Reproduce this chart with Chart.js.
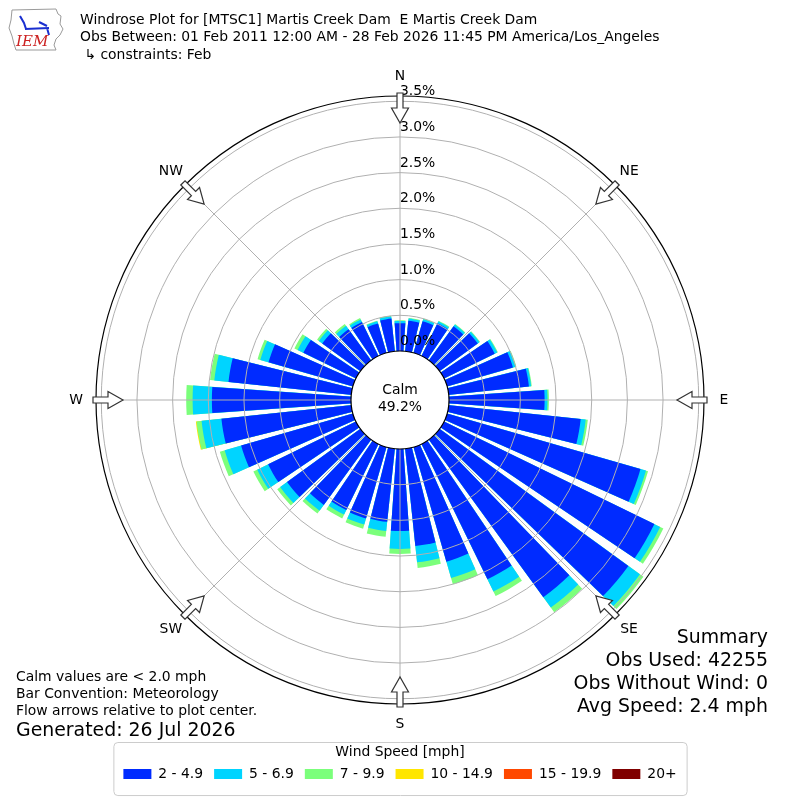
<!DOCTYPE html>
<html>
<head>
<meta charset="utf-8">
<title>Windrose Plot for [MTSC1] Martis Creek Dam</title>
<script src="https://cdn.jsdelivr.net/npm/chart.js@4.4.1/dist/chart.umd.min.js"></script>
<style>
  body { margin: 0; background: #fff; font-family: 'DejaVu Sans', sans-serif; color: #000; }
  #wrap { position: relative; width: 800px; height: 800px; overflow: hidden; background: #fff; }
  #windrose { position: absolute; left: 0; top: 0; }
  .txt { position: absolute; white-space: pre; }
  #title { left: 80px; top: 10.5px; font-size: 13.9px; line-height: 17.5px; }
  #notes { left: 16px; top: 667.5px; font-size: 13.9px; line-height: 17px; }
  #generated { left: 16px; top: 718px; font-size: 18.9px; line-height: 22px; }
  #summary { right: 32px; top: 624.5px; font-size: 18.9px; line-height: 23px; text-align: right; }
  #logo { position: absolute; left: 6px; top: 4px; }
</style>
</head>
<body>
<div id="wrap">
  <canvas id="windrose" width="800" height="800"></canvas>

  <svg id="logo" width="60" height="50" viewBox="0 0 60 50">
    <path d="M6 6 L50 5 L52 10 L55 12 L54 20 L57 25 L54 31 L50 35 L48 41 L50 46 L10 46 L8 40 L6 32 L3 24 L5 16 Z"
          fill="none" stroke="#9a9a9a" stroke-width="1"/>
    <path d="M14 12 L18 19 L20 25 M19 25 L43 24 M33 18 L41 22 M41 24 L43 31" stroke="#1a2fd0" stroke-width="2" fill="none"/>
    <text x="10" y="42" font-family="'DejaVu Serif', serif" font-style="italic" font-size="15" fill="#cc2222">IEM</text>
  </svg>

  <div id="title" class="txt">Windrose Plot for [MTSC1] Martis Creek Dam  E Martis Creek Dam
Obs Between: 01 Feb 2011 12:00 AM - 28 Feb 2026 11:45 PM America/Los_Angeles
 ↳ constraints: Feb</div>

  <div id="notes" class="txt">Calm values are &lt; 2.0 mph
Bar Convention: Meteorology
Flow arrows relative to plot center.</div>
  <div id="generated" class="txt">Generated: 26 Jul 2026</div>

  <div id="summary" class="txt">Summary
Obs Used: 42255
Obs Without Wind: 0
Avg Speed: 2.4 mph</div>
</div>

<script>
// ─── DATA ──────────────────────────────────────────────────
// direction bins (degrees, wind from), 10 deg wide
const DIRECTIONS = [0, 10, 20, 30, 40, 50, 60, 70, 80, 90, 100, 110, 120, 130, 140, 150, 160, 170,
                    180, 190, 200, 210, 220, 230, 240, 250, 260, 270, 280, 290, 300, 310, 320, 330, 340, 350];

const SPEED_BINS = ['2 - 4.9', '5 - 6.9', '7 - 9.9', '10 - 14.9', '15 - 19.9', '20+'];
const BIN_COLORS = ['#002bff', '#00d4ff', '#7bff7b', '#ffe600', '#ff4800', '#800000'];

// frequency (%) per speed bin, one value per direction
const PCT_2_5   = [0.39, 0.43, 0.46, 0.51, 0.59, 0.66, 0.79, 0.96, 1.13, 1.34, 1.86, 2.82, 3.28, 3.27, 2.73, 2.11, 1.67, 1.37,
                   1.15, 1.03, 1.04, 1.03, 1.13, 1.27, 1.37, 1.63, 1.83, 1.95, 1.73, 1.23, 0.82, 0.66, 0.54, 0.53, 0.43, 0.46];
const PCT_5_7   = [0.03, 0.03, 0.03, 0.03, 0.03, 0.03, 0.04, 0.04, 0.03, 0.04, 0.07, 0.08, 0.09, 0.20, 0.18, 0.19, 0.24, 0.23,
                   0.25, 0.13, 0.09, 0.07, 0.10, 0.12, 0.17, 0.24, 0.28, 0.27, 0.20, 0.12, 0.09, 0.06, 0.06, 0.04, 0.03, 0.03];
const PCT_7_10  = [0.01, 0.01, 0.01, 0.01, 0.01, 0.01, 0.01, 0.01, 0.01, 0.02, 0.03, 0.03, 0.05, 0.06, 0.08, 0.07, 0.09, 0.08,
                   0.07, 0.08, 0.06, 0.06, 0.05, 0.05, 0.06, 0.07, 0.07, 0.09, 0.06, 0.04, 0.05, 0.03, 0.03, 0.02, 0.01, 0.01];
const PCT_10_15 = [0, 0, 0, 0, 0, 0, 0, 0, 0, 0, 0, 0, 0, 0, 0, 0, 0, 0,
                   0, 0, 0, 0, 0, 0, 0, 0, 0.01, 0, 0, 0, 0, 0, 0, 0, 0, 0];
const PCT_15_20 = [0, 0, 0, 0, 0, 0, 0, 0, 0, 0, 0, 0, 0, 0, 0, 0, 0, 0,
                   0, 0, 0, 0, 0, 0, 0, 0, 0, 0, 0, 0, 0, 0, 0, 0, 0, 0];
const PCT_20P   = [0, 0, 0, 0, 0, 0, 0, 0, 0, 0, 0, 0, 0, 0, 0, 0, 0, 0,
                   0, 0, 0, 0, 0, 0, 0, 0, 0, 0, 0, 0, 0, 0, 0, 0, 0, 0];

const CALM_PCT = 49.2;

const TICK_VALUES = [0, 0.5, 1, 1.5, 2, 2.5, 3, 3.5];
const TICK_LABELS = ['0.0%', '0.5%', '1.0%', '1.5%', '2.0%', '2.5%', '3.0%', '3.5%'];
const COMPASS     = ['N', 'NE', 'E', 'SE', 'S', 'SW', 'W', 'NW'];

// ─── LAYOUT CONSTANTS ──────────────────────────────────────
const FONT        = 'DejaVu Sans';
const R_MIN       = -0.687;   // leaves room for the calm hole at the centre
const R_MAX       = 3.574;    // outer frame, a bit past the 3.5% ring
const BAR_DEG     = 8;
const GAP_DEG     = 2;
const LABEL_SHIFT = 0.133;    // tick labels sit just above their ring
const LABEL_PAD   = ' '.repeat(8);
const GRID_COLOR  = '#b0b0b0';

// ─── BUILD ARCS ────────────────────────────────────────────
// polarArea lays arcs side by side, so bars and gaps alternate;
// the north bar is split in two halves around 0 deg
const slots = [{ dir: 0, angle: BAR_DEG / 2 }];
for (let i = 1; i < DIRECTIONS.length; i++) {
  slots.push({ dir: -1, angle: GAP_DEG });
  slots.push({ dir: i, angle: BAR_DEG });
}
slots.push({ dir: -1, angle: GAP_DEG });
slots.push({ dir: 0, angle: BAR_DEG / 2 });

const series = [PCT_2_5, PCT_5_7, PCT_7_10, PCT_10_15, PCT_15_20, PCT_20P];

// stacked: each bin drawn as the cumulative total, slower bins painted on top
const cumulative = series.map((s, k) => DIRECTIONS.map((d, i) => {
  if (!(s[i] > 0)) return R_MIN;
  return series.slice(0, k + 1).reduce((acc, t) => acc + t[i], 0);
}));

const datasets = SPEED_BINS.map((label, k) => ({
  label,
  data: slots.map(s => s.dir < 0 ? R_MIN : cumulative[k][s.dir]),
  backgroundColor: BIN_COLORS[k],
  borderWidth: 0,
  angle: ctx => slots[ctx.dataIndex].angle,
}));

const isLabelTick = v => TICK_VALUES.some(t => Math.abs(t + LABEL_SHIFT - v) < 1e-9);

// ─── DECORATION ────────────────────────────────────────────
function drawArrow(ctx, cx, cy, ang, R) {
  ctx.save();
  ctx.translate(cx, cy);
  ctx.rotate(ang);
  ctx.beginPath();
  ctx.moveTo(-3, -R - 3);
  ctx.lineTo(3, -R - 3);
  ctx.lineTo(3, -R + 12);
  ctx.lineTo(8.5, -R + 12);
  ctx.lineTo(0, -R + 27);
  ctx.lineTo(-8.5, -R + 12);
  ctx.lineTo(-3, -R + 12);
  ctx.closePath();
  ctx.fillStyle = '#fff';
  ctx.fill();
  ctx.strokeStyle = '#333';
  ctx.lineWidth = 1.2;
  ctx.stroke();
  ctx.restore();
}

const roseDecor = {
  id: 'roseDecor',
  afterDatasetsDraw(chart) {
    const { ctx } = chart;
    const r  = chart.scales.r;
    const r0 = r.getDistanceFromCenterForValue(0);
    ctx.save();
    ctx.strokeStyle = GRID_COLOR;
    ctx.lineWidth = 1;
    COMPASS.forEach((_, i) => {
      const a = i * Math.PI / 4;
      ctx.beginPath();
      ctx.moveTo(r.xCenter + r0 * Math.sin(a), r.yCenter - r0 * Math.cos(a));
      ctx.lineTo(r.xCenter + r.drawingArea * Math.sin(a), r.yCenter - r.drawingArea * Math.cos(a));
      ctx.stroke();
    });
    // calm hole
    ctx.fillStyle = '#fff';
    ctx.beginPath();
    ctx.arc(r.xCenter, r.yCenter, r0, 0, Math.PI * 2);
    ctx.fill();
    ctx.restore();
  },
  afterDraw(chart) {
    const { ctx } = chart;
    const r = chart.scales.r;
    const R = r.drawingArea;
    ctx.save();
    ctx.font = `13.9px '${FONT}'`;
    ctx.textAlign = 'center';
    ctx.textBaseline = 'middle';
    COMPASS.forEach((name, i) => {
      const a = i * Math.PI / 4;
      drawArrow(ctx, r.xCenter, r.yCenter, a, R);
      ctx.fillStyle = '#000';
      ctx.fillText(name, r.xCenter + (R + 20) * Math.sin(a), r.yCenter - (R + 20) * Math.cos(a));
    });
    ctx.fillText('Calm', r.xCenter, r.yCenter - 10);
    ctx.fillText(CALM_PCT.toFixed(1) + '%', r.xCenter, r.yCenter + 7);
    ctx.restore();
  },
};

const legendFrame = {
  id: 'legendFrame',
  afterDraw(chart) {
    const lg = chart.legend;
    const hb = lg.legendHitBoxes || [];
    if (!hb.length) return;
    const x0 = Math.min(...hb.map(h => h.left)) - 10;
    const x1 = Math.max(...hb.map(h => h.left + h.width)) + 10;
    const y0 = lg.top + 2;
    const y1 = lg.bottom + 4;
    const { ctx } = chart;
    ctx.save();
    ctx.strokeStyle = '#cccccc';
    ctx.lineWidth = 1;
    ctx.beginPath();
    ctx.roundRect(x0 + 0.5, y0 + 0.5, x1 - x0, y1 - y0, 4);
    ctx.stroke();
    ctx.restore();
  },
};

// ─── CHART ─────────────────────────────────────────────────
new Chart(document.getElementById('windrose'), {
  type: 'polarArea',
  data: {
    labels: slots.map(s => s.dir < 0 ? '' : DIRECTIONS[s.dir] + '°'),
    datasets,
  },
  options: {
    responsive: false,
    animation: false,
    events: [],
    // radial scale keeps half a tick font of padding on every side
    layout: { padding: { top: 60.5, bottom: 8.95, left: 88.5, right: 88.5 } },
    plugins: {
      tooltip: { enabled: false },
      legend: {
        position: 'bottom',
        title: {
          display: true,
          text: 'Wind Speed [mph]',
          color: '#000',
          font: { family: FONT, size: 13.9, lineHeight: 0.8 },
          padding: { top: 5, bottom: 0 },
        },
        labels: {
          boxWidth: 28,
          boxHeight: 10,
          padding: 11,
          color: '#000',
          font: { family: FONT, size: 13.9 },
          generateLabels: chart => chart.data.datasets.map((ds, i) => ({
            text: ds.label,
            fillStyle: ds.backgroundColor,
            strokeStyle: ds.backgroundColor,
            lineWidth: 0,
            hidden: false,
            datasetIndex: i,
          })),
        },
      },
    },
    scales: {
      r: {
        min: R_MIN,
        max: R_MAX,
        startAngle: 0,
        border: { display: false },
        angleLines: { display: false },
        pointLabels: { display: false },
        grid: {
          z: 1,
          circular: true,
          color: ctx => {
            const v = ctx.tick ? ctx.tick.value : null;
            if (v === 0 || v === R_MAX) return '#000';
            return GRID_COLOR;
          },
          lineWidth: ctx => {
            const v = ctx.tick ? ctx.tick.value : null;
            if (v === null || v === R_MIN || isLabelTick(v)) return 0;
            return (v === 0 || v === R_MAX) ? 1.2 : 1;
          },
        },
        afterBuildTicks: scale => {
          const t = [R_MIN];
          TICK_VALUES.forEach(v => t.push(v, v + LABEL_SHIFT));
          t.push(R_MAX);
          scale.ticks = t.map(value => ({ value }));
        },
        ticks: {
          z: 1,
          display: true,
          showLabelBackdrop: false,
          backdropPadding: 0,
          color: '#000',
          font: { family: FONT, size: 13.9 },
          callback: value => {
            const j = TICK_VALUES.findIndex(v => Math.abs(v + LABEL_SHIFT - value) < 1e-9);
            return j < 0 ? '' : LABEL_PAD + TICK_LABELS[j];
          },
        },
      },
    },
  },
  plugins: [roseDecor, legendFrame],
});
</script>
</body>
</html>
